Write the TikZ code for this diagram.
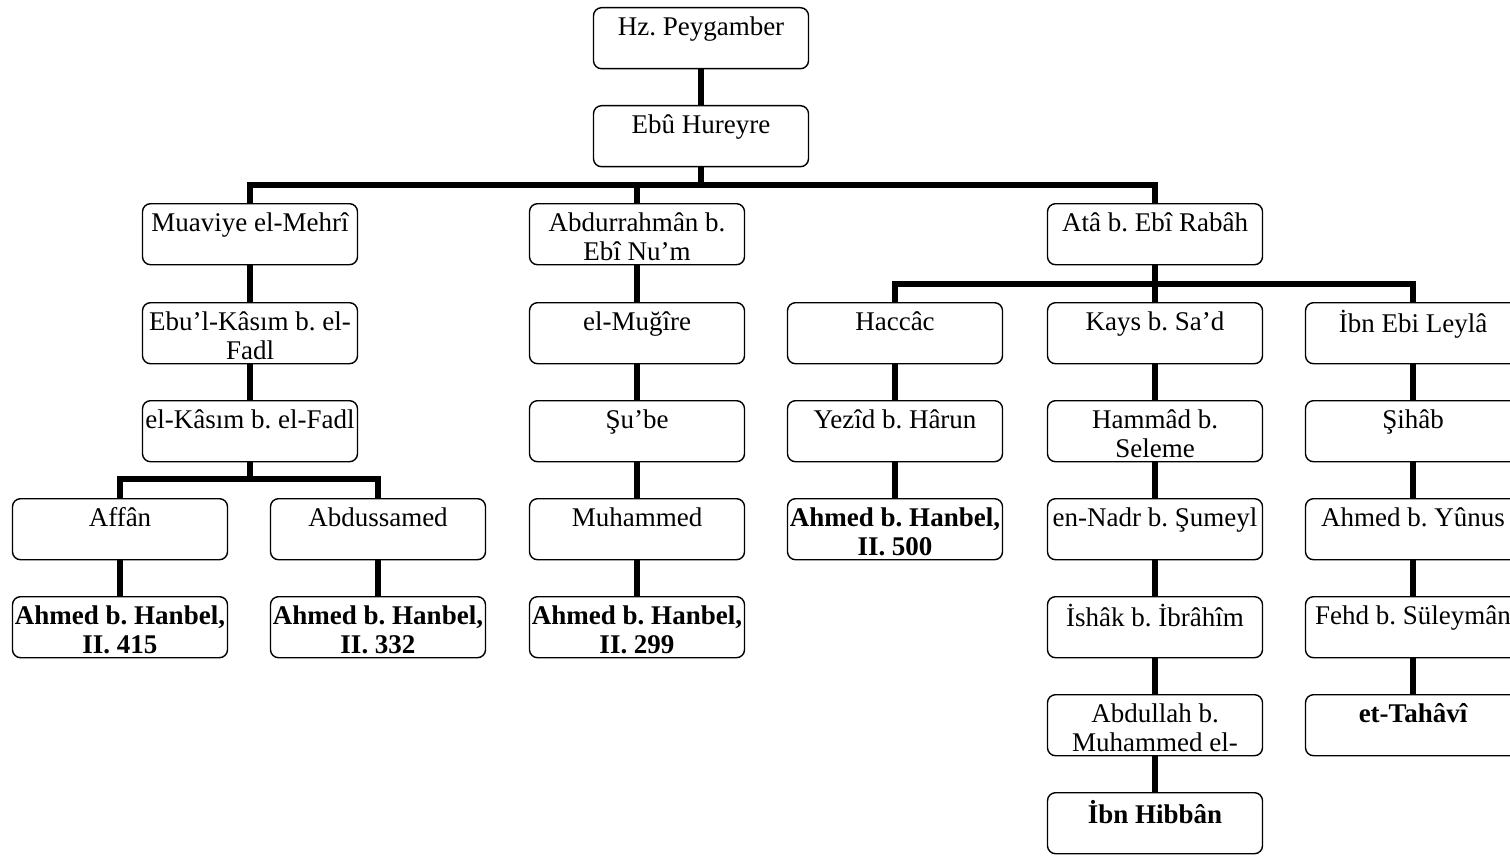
\documentclass[tikz,border=0pt]{standalone}
\usepackage{fontspec}
\setmainfont{Liberation Serif}
\frenchspacing
\newcommand\fl{\rule{0pt}{20pt}}
\tikzset{
  box/.style={draw, fill=white, rounded corners=8pt, line width=1.4pt, minimum width=215pt,
              minimum height=61pt, inner sep=0pt, anchor=north},
  txt/.style={inner sep=0pt, align=center, anchor=north,
              font=\fontsize{27}{29}\selectfont},
  strong/.style={font=\fontsize{27}{29}\selectfont\bfseries},
  conn/.style={line width=6pt, line join=miter, line cap=butt}
}
% one person: box plus its name set at the top of the box
\newcommand\person[5][]{%
  \node[box] (#2) at (#3,#4) {};
  \node[txt,#1] (#2-t) at ([yshift=-8.5pt]#2.north) {\fl #5};}
\begin{document}
\begin{tikzpicture}[x=1pt,y=-1pt]
\useasboundingbox (0,0) rectangle (1510,856);

\person{hz}{701}{7}{Hz. Peygamber}
\person{ebu}{701}{105}{Ebû Hureyre}

\person{muav}{250}{203}{Muaviye el-Mehrî}
\person{abdr}{637}{203}{Abdurrahmân b.\\Ebî Nu’m}
\person{ata}{1155}{203}{Atâ b. Ebî Rabâh}

% first branch
\person{ebul}{250}{302}{Ebu’l-Kâsım b. el-\\Fadl}
\person{kasim}{250}{400}{el-Kâsım b. el-Fadl}
\person{affan}{120}{498}{Affân}
\person{abds}{378}{498}{Abdussamed}
\person[strong]{ah1}{120}{596}{Ahmed b. Hanbel,\\II. 415}
\person[strong]{ah2}{378}{596}{Ahmed b. Hanbel,\\II. 332}

% second branch
\person{mug}{637}{302}{el-Muğîre}
\person{sube}{637}{400}{Şu’be}
\person{muh}{637}{498}{Muhammed}
\person[strong]{ah3}{637}{596}{Ahmed b. Hanbel,\\II. 299}

% third branch
\person{hac}{895}{302}{Haccâc}
\person{yez}{895}{400}{Yezîd b. Hârun}
\person[strong]{ah4}{895}{498}{Ahmed b. Hanbel,\\II. 500}

\person{kays}{1155}{302}{Kays b. Sa’d}
\person{hamm}{1155}{400}{Hammâd b.\\Seleme}
\person{nadr}{1155}{498}{en-Nadr b. Şumeyl}
\person{ishak}{1155}{596}{İshâk b. İbrâhîm}
\person{abdl}{1155}{694}{Abdullah b.\\Muhammed el-}
\person[strong]{hibban}{1155}{792}{İbn Hibbân}

\person{ibn}{1413}{302}{İbn Ebi Leylâ}
\person{sihab}{1413}{400}{Şihâb}
\person{yunus}{1413}{498}{Ahmed b. Yûnus}
\person{fehd}{1413}{596}{Fehd b. Süleymân}
\person[strong]{tahavi}{1413}{694}{et-Tahâvî}

% connectors
\coordinate (b1) at (701,184.5);
\coordinate (b2) at (250,479);
\coordinate (b3) at (1155,284);

\draw[conn] (hz.south) -- (ebu.north);
\draw[conn] (ebu.south) -- (b1);
\draw[conn] (muav.north) |- (b1) -| (ata.north);
\draw[conn] (abdr.north) -- (abdr.north |- b1);

\draw[conn] (muav.south) -- (ebul.north);
\draw[conn] (ebul.south) -- (kasim.north);
\draw[conn] (kasim.south) -- (b2);
\draw[conn] (affan.north) |- (b2) -| (abds.north);
\draw[conn] (affan.south) -- (ah1.north);
\draw[conn] (abds.south) -- (ah2.north);

\draw[conn] (abdr.south) -- (mug.north);
\draw[conn] (mug.south) -- (sube.north);
\draw[conn] (sube.south) -- (muh.north);
\draw[conn] (muh.south) -- (ah3.north);

\draw[conn] (ata.south) -- (b3);
\draw[conn] (hac.north) |- (b3) -| (ibn.north);
\draw[conn] (kays.north) -- (b3);

\draw[conn] (hac.south) -- (yez.north);
\draw[conn] (yez.south) -- (ah4.north);

\draw[conn] (kays.south) -- (hamm.north);
\draw[conn] (hamm.south) -- (nadr.north);
\draw[conn] (nadr.south) -- (ishak.north);
\draw[conn] (ishak.south) -- (abdl.north);
\draw[conn] (abdl.south) -- (hibban.north);

\draw[conn] (ibn.south) -- (sihab.north);
\draw[conn] (sihab.south) -- (yunus.north);
\draw[conn] (yunus.south) -- (fehd.north);
\draw[conn] (fehd.south) -- (tahavi.north);
\end{tikzpicture}
\end{document}
